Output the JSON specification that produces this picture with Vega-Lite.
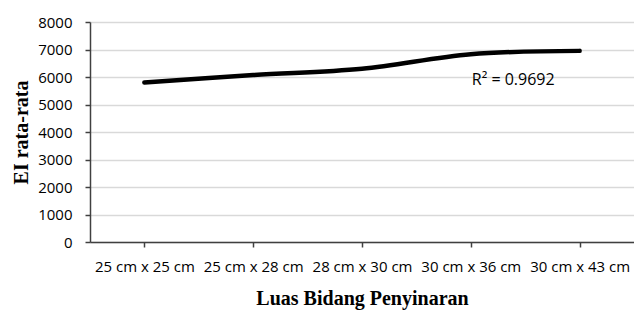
{
  "$schema": "https://vega.github.io/schema/vega-lite/v6.json",
  "width": 544,
  "height": 220,
  "autosize": {"type": "none"},
  "padding": {"left": 90, "top": 22, "right": 0, "bottom": 68},
  "background": "white",
  "config": {
    "view": {"stroke": null},
    "axis": {"labelFont": "Open Sans", "labelFontSize": 15, "labelColor": "#000000", "titleFont": "Liberation Serif", "titleFontSize": 20, "titleFontWeight": "bold", "titleColor": "#000000", "domainColor": "#404040", "domainWidth": 1.5, "tickColor": "#404040", "tickWidth": 1.5, "tickSize": 5}
  },
  "encoding": {
    "x": {"field": "luas", "type": "ordinal", "sort": null, "scale": {"type": "point", "padding": 0.5}, "axis": {"title": "Luas Bidang Penyinaran", "labelAngle": 0, "labelPadding": 12, "titlePadding": 14, "grid": false}},
    "y": {"field": "ei", "type": "quantitative", "scale": {"domain": [0, 8000]}, "axis": {"title": "EI rata-rata", "values": [0, 1000, 2000, 3000, 4000, 5000, 6000, 7000, 8000], "labelOverlap": false, "grid": true, "gridColor": "#d9d9d9", "gridWidth": 1.5, "labelPadding": 13, "titlePadding": 6, "format": "d"}}
  },
  "layer": [
    {
      "data": {"values": [
        {"luas": "25 cm x 25 cm", "ei": 5800},
        {"luas": "25 cm x 28 cm", "ei": 6070},
        {"luas": "28 cm x 30 cm", "ei": 6300},
        {"luas": "30 cm x 36 cm", "ei": 6830},
        {"luas": "30 cm x 43 cm", "ei": 6950}
      ]},
      "mark": {"type": "line", "color": "#000000", "strokeWidth": 4.5, "interpolate": "catmull-rom", "strokeCap": "round"}
    },
    {
      "data": {"values": [{"luas": "30 cm x 36 cm", "ei": 5890, "label": "R² = 0.9692"}]},
      "mark": {"type": "text", "align": "left", "baseline": "middle", "font": "Open Sans", "fontSize": 16, "color": "#000000", "dx": 1},
      "encoding": {
        "text": {"field": "label"}
      }
    }
  ]
}
